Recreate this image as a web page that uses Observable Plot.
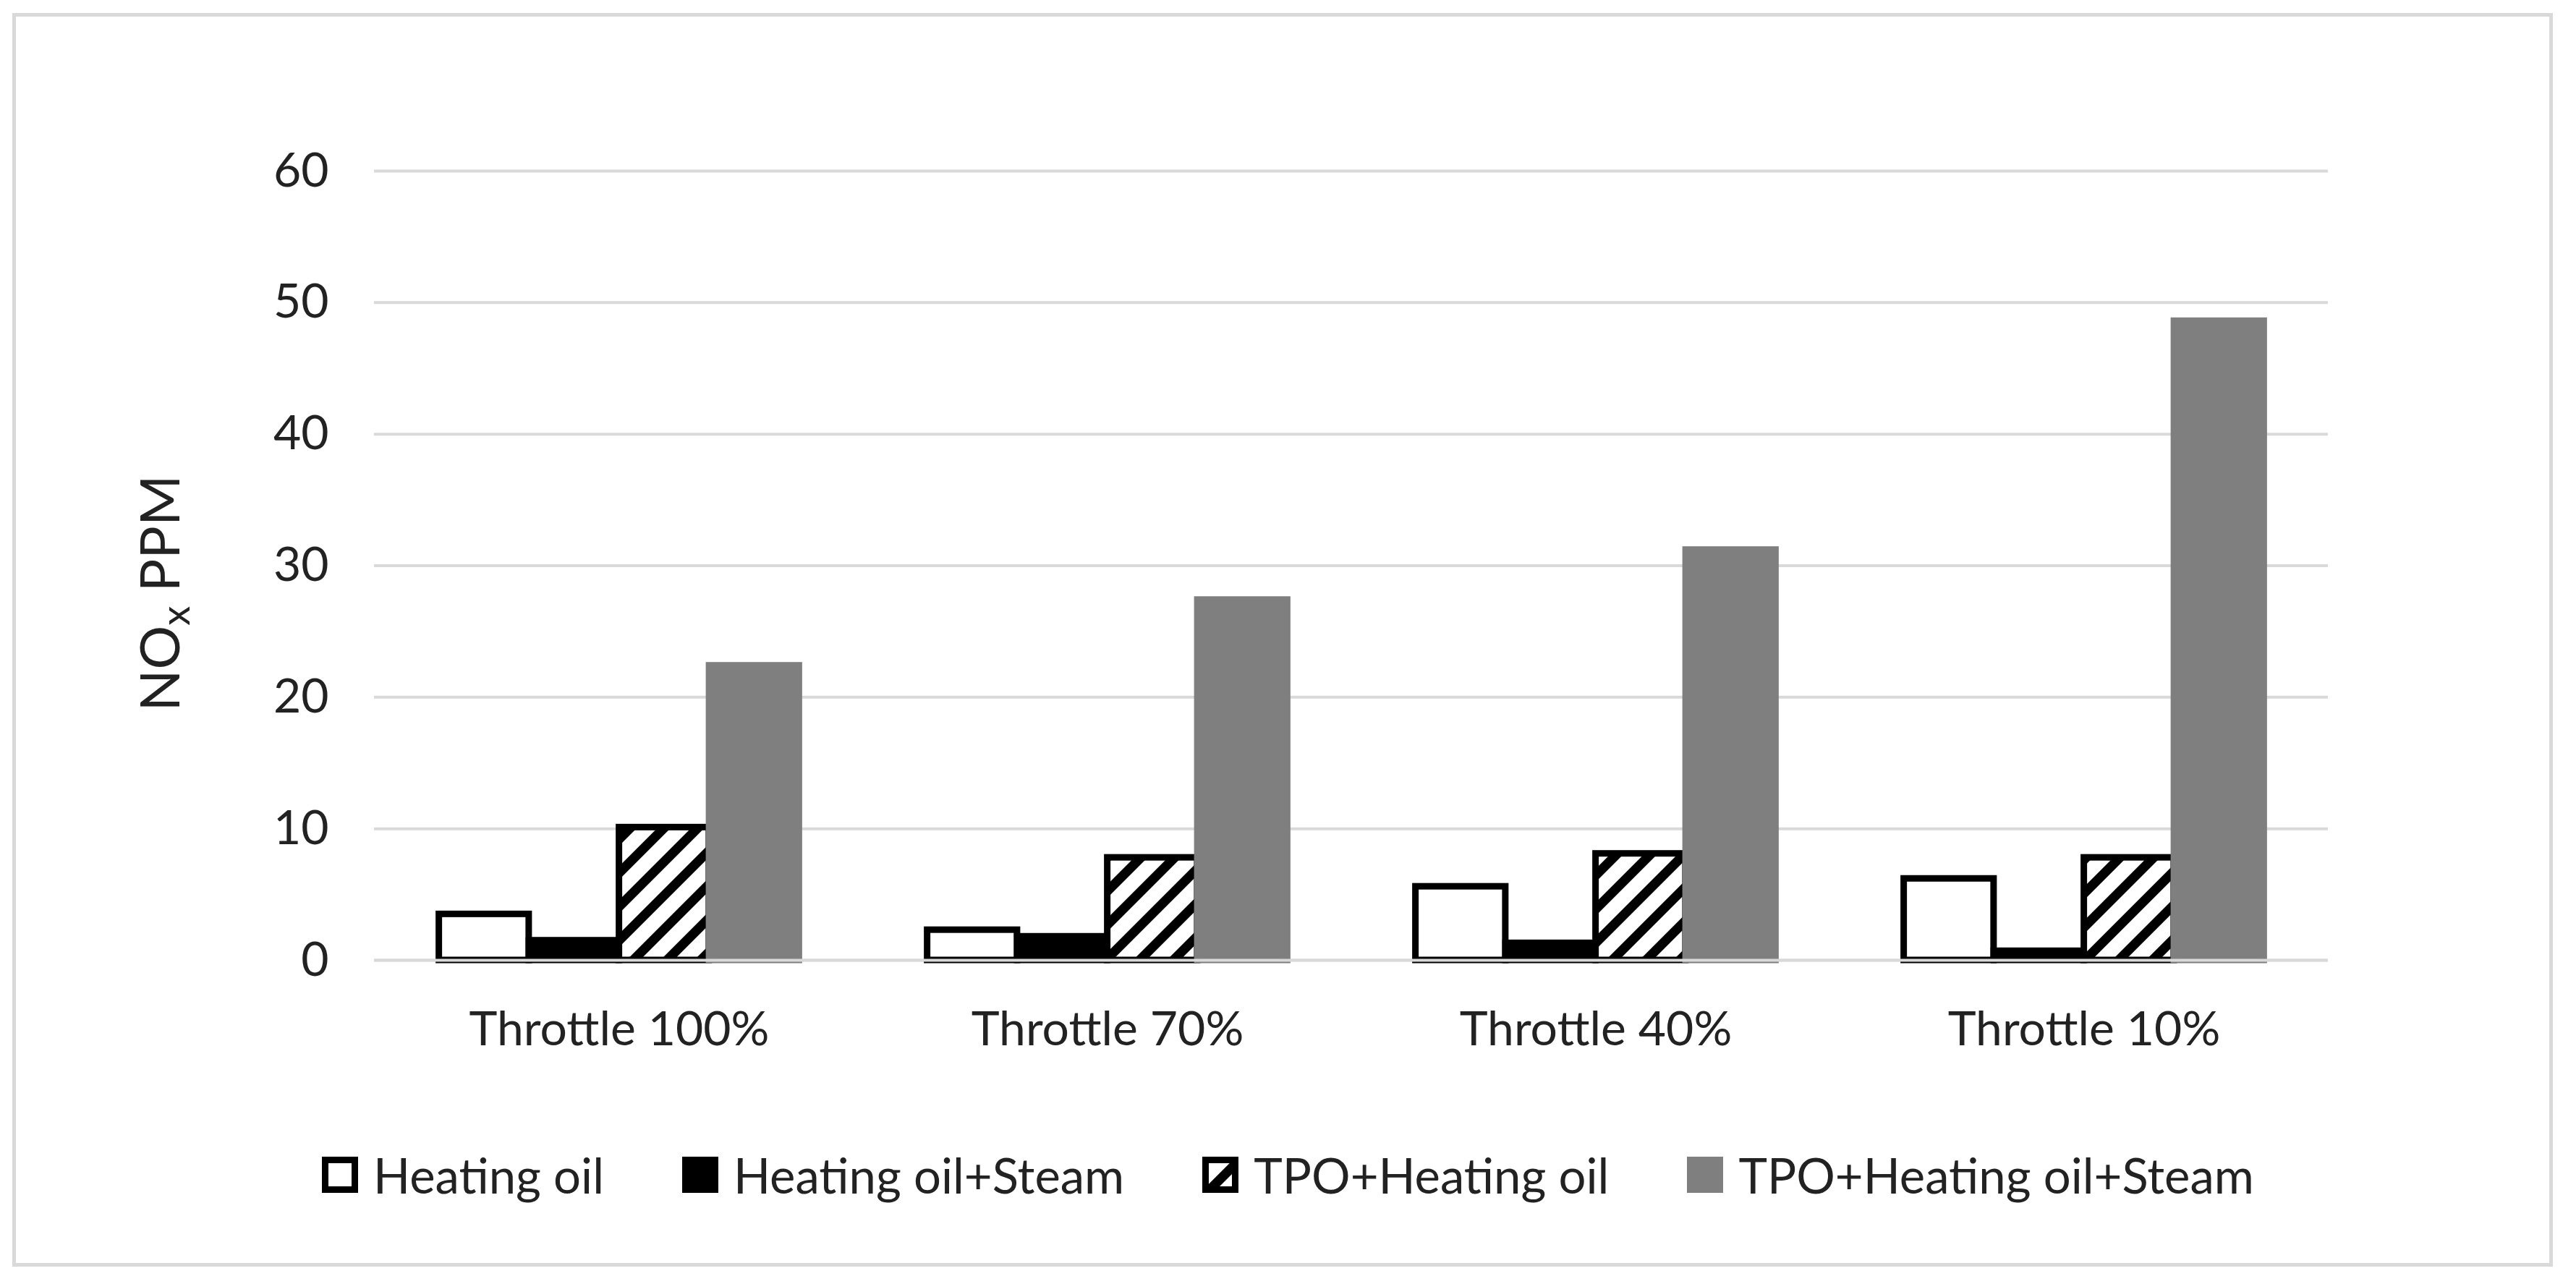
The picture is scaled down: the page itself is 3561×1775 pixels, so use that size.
<!DOCTYPE html>
<html>
<head>
<meta charset="utf-8">
<script src="https://cdn.jsdelivr.net/npm/d3@7"></script>
<script src="https://cdn.jsdelivr.net/npm/@observablehq/plot@0.6"></script>
<style>
  html, body { margin: 0; padding: 0; background: #fff; }
  #wrap { position: relative; width: 3561px; height: 1775px; overflow: hidden; font-family: Lato, "Open Sans", sans-serif; background: #fff; }
  #frame { position: absolute; left: 17px; top: 18px; width: 3512px; height: 1733px; border: 5px solid #d9d9d9; box-sizing: border-box; }
  #chart { position: absolute; left: 0; top: 0; }
  #legend { position: absolute; left: 0; top: 1584px; width: 3561px; height: 80px; display: flex; justify-content: center; align-items: center; gap: 108px; font-size: 67px; color: #222; white-space: nowrap; }
  .item { display: flex; align-items: center; gap: 21px; }
  .item svg { display: block; }
</style>
</head>
<body>
<div id="wrap">
  <div id="frame"></div>
  <div id="chart"></div>
  <div id="legend"></div>
</div>
<script>
// ---- data ----
const categories = ["Throttle 100%", "Throttle 70%", "Throttle 40%", "Throttle 10%"];
const seriesNames = ["Heating oil", "Heating oil+Steam", "TPO+Heating oil", "TPO+Heating oil+Steam"];
const heatingOil = [3.5, 2.3, 5.6, 6.2];
const heatingOilSteam = [1.5, 1.8, 1.3, 0.7];
const tpoHeatingOil = [10.1, 7.8, 8.1, 7.8];
const tpoHeatingOilSteam = [22.4, 27.4, 31.2, 48.6];
const yTicks = [0, 10, 20, 30, 40, 50, 60];

// ---- styles ----
const seriesValues = [heatingOil, heatingOilSteam, tpoHeatingOil, tpoHeatingOilSteam];
const fills = ["#ffffff", "#000000", "url(#hatch)", "#7f7f7f"];
const strokes = ["#000000", "#000000", "#000000", "#7f7f7f"];

const W = 3561, H = 1500;
const mL = 517, mR = W - 3218, mT = 236, mB = H - 1327;
const step = (W - mL - mR) / categories.length;
const barW = 124.5;
const off = (step - seriesNames.length * barW) / 2;

const marks = [Plot.ruleY(yTicks, {stroke: "#d9d9d9", strokeWidth: 4})];
seriesValues.forEach((vals, k) => {
  const data = categories.map((c, i) => ({category: c, series: seriesNames[k], value: vals[i]}));
  marks.push(Plot.barY(data, {
    x: "category", y: "value",
    fill: fills[k], stroke: strokes[k], strokeWidth: 9,
    insetLeft: off + k * barW,
    insetRight: step - off - (k + 1) * barW
  }));
});
marks.push(Plot.ruleY([0], {stroke: "#d9d9d9", strokeWidth: 4}));

const svg = Plot.plot({
  width: W, height: H,
  marginLeft: mL, marginRight: mR, marginTop: mT, marginBottom: mB,
  style: {fontSize: "66px", fontFamily: "Lato, 'Open Sans', sans-serif", color: "#222", background: "transparent", overflow: "visible"},
  x: {type: "band", domain: categories, padding: 0, tickSize: 0, tickPadding: 71, label: null},
  y: {domain: [0, 60], ticks: yTicks, tickSize: 0, tickPadding: 63, label: null},
  marks
});

const ns = "http://www.w3.org/2000/svg";
const defs = document.createElementNS(ns, "defs");
defs.innerHTML = '<pattern id="hatch" patternUnits="userSpaceOnUse" width="33" height="33" patternTransform="rotate(45)"><rect width="33" height="33" fill="#fff"/><rect width="13" height="33" fill="#000"/></pattern>';
svg.insertBefore(defs, svg.firstChild);

// y-axis title with subscript
const t = document.createElementNS(ns, "text");
t.setAttribute("transform", "translate(248,820) rotate(-90)");
t.setAttribute("text-anchor", "middle");
t.setAttribute("font-size", "76");
t.setAttribute("fill", "#222");
const s1 = document.createElementNS(ns, "tspan"); s1.textContent = "NO";
const s2 = document.createElementNS(ns, "tspan"); s2.textContent = "x"; s2.setAttribute("font-size", "54"); s2.setAttribute("dy", "14");
const s3 = document.createElementNS(ns, "tspan"); s3.textContent = "\u00A0PPM"; s3.setAttribute("dy", "-14");
t.append(s1, s2, s3);
svg.appendChild(t);

document.getElementById("chart").appendChild(svg);

// legend
const legend = document.getElementById("legend");
seriesNames.forEach((name, k) => {
  const item = document.createElement("div");
  item.className = "item";
  item.innerHTML = `<svg width="50" height="50"><rect x="4.5" y="4.5" width="41" height="41" fill="${fills[k]}" stroke="${strokes[k]}" stroke-width="9"/></svg><span>${name}</span>`;
  legend.appendChild(item);
});
</script>
</body>
</html>
